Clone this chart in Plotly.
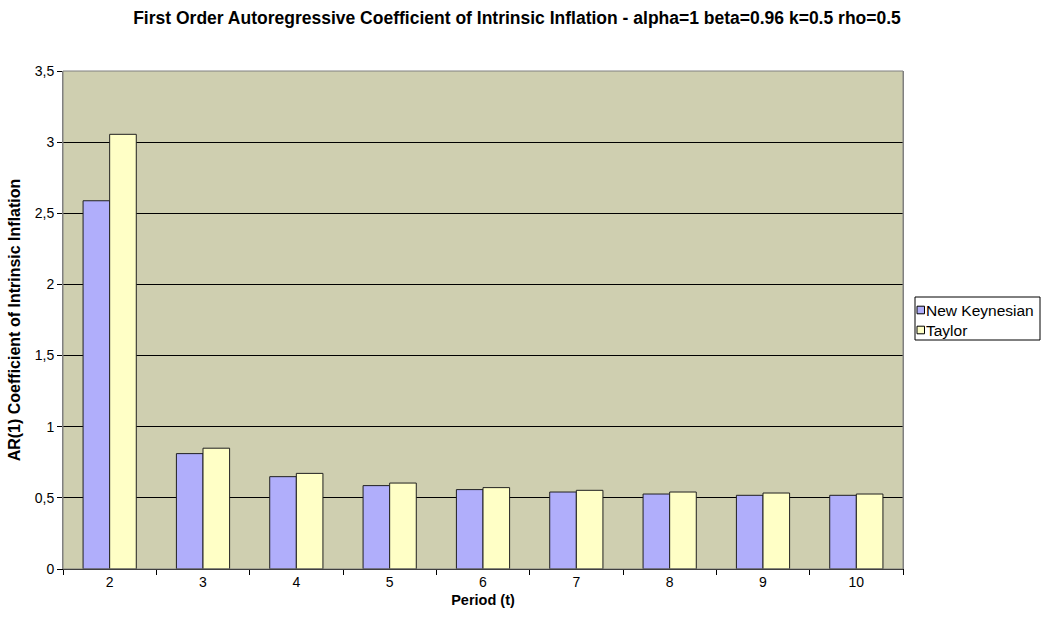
import plotly.graph_objects as go

periods = ["2", "3", "4", "5", "6", "7", "8", "9", "10"]
new_keynesian = [2.588, 0.811, 0.649, 0.586, 0.558, 0.541, 0.527, 0.518, 0.518]
taylor = [3.055, 0.849, 0.672, 0.604, 0.572, 0.553, 0.541, 0.534, 0.527]
y_ticks = [0, 0.5, 1, 1.5, 2, 2.5, 3, 3.5]
series_names = ["New Keynesian", "Taylor"]
series_colors = ["#B0AEFB", "#FFFFC6"]

FONT = "Liberation Sans, Arial, sans-serif"

fig = go.Figure()
for name, vals, col in zip(series_names, [new_keynesian, taylor], series_colors):
    fig.add_trace(go.Bar(x=periods, y=vals, name=name,
                         marker=dict(color=col, line=dict(color="#202020", width=1))))


def fmt(v):
    return ("%g" % v).replace(".", ",")


fig.update_layout(
    width=1042, height=622,
    margin=dict(l=63, r=139, t=71, b=53),
    paper_bgcolor="white", plot_bgcolor="#CFCFB0",
    barmode="group", bargap=0.43, bargroupgap=0,
    font=dict(family=FONT, size=14, color="black"),
    title=dict(text="<b>First Order Autoregressive Coefficient of Intrinsic Inflation - alpha=1 beta=0.96 k=0.5 rho=0.5</b>",
               x=517 / 1042, xanchor="center", y=1 - 18 / 622, yanchor="middle",
               font=dict(size=17.5, family=FONT)),
    showlegend=False,
    xaxis=dict(
        title=dict(text="<b>Period (t)</b>", standoff=6, font=dict(size=14.5)),
        tickson="boundaries", ticks="outside", ticklen=5, tickcolor="black",
        showline=True, linecolor="black", linewidth=1, mirror=False,
        showgrid=False, tickfont=dict(size=14),
    ),
    yaxis=dict(
        title=dict(text="<b>AR(1) Coefficient of Intrinsic Inflation</b>", standoff=10, font=dict(size=16)),
        range=[0, 3.5], tickvals=y_ticks, ticktext=[fmt(v) for v in y_ticks],
        ticks="outside", ticklen=5, tickcolor="black", tickfont=dict(size=14),
        showline=True, linecolor="#808080", linewidth=1, mirror=True,
        showgrid=True, gridcolor="black", gridwidth=1, zeroline=False,
    ),
)
fig.add_shape(type="rect", xref="paper", yref="paper", x0=0, y0=0, x1=1, y1=1,
              line=dict(color="#808080", width=1), fillcolor="rgba(0,0,0,0)", layer="above")

# Legend box (page pixel coordinates converted to plot-area fractions)
PX0, PX1, PY0, PY1 = 63, 903, 71, 569


def px(x):
    return (x - PX0) / (PX1 - PX0)


def py(y):
    return (PY1 - y) / (PY1 - PY0)


fig.add_shape(type="rect", xref="paper", yref="paper", x0=px(915), x1=px(1040), y0=py(340), y1=py(297),
              line=dict(color="black", width=1), fillcolor="white")
for i, (name, col) in enumerate(zip(series_names, series_colors)):
    cy = 310 + 20 * i
    fig.add_shape(type="rect", xref="paper", yref="paper", x0=px(917), x1=px(924.5),
                  y0=py(cy + 3.8), y1=py(cy - 3.8), line=dict(color="black", width=1), fillcolor=col)
    fig.add_annotation(xref="paper", yref="paper", x=px(925), y=py(cy), text=name, showarrow=False,
                       xanchor="left", yanchor="middle", xshift=-1,
                       font=dict(size=15.5, family=FONT))

fig.write_html("out.html", config={"displayModeBar": False},
               post_script="document.body.style.margin='0';document.body.style.overflow='hidden';")
